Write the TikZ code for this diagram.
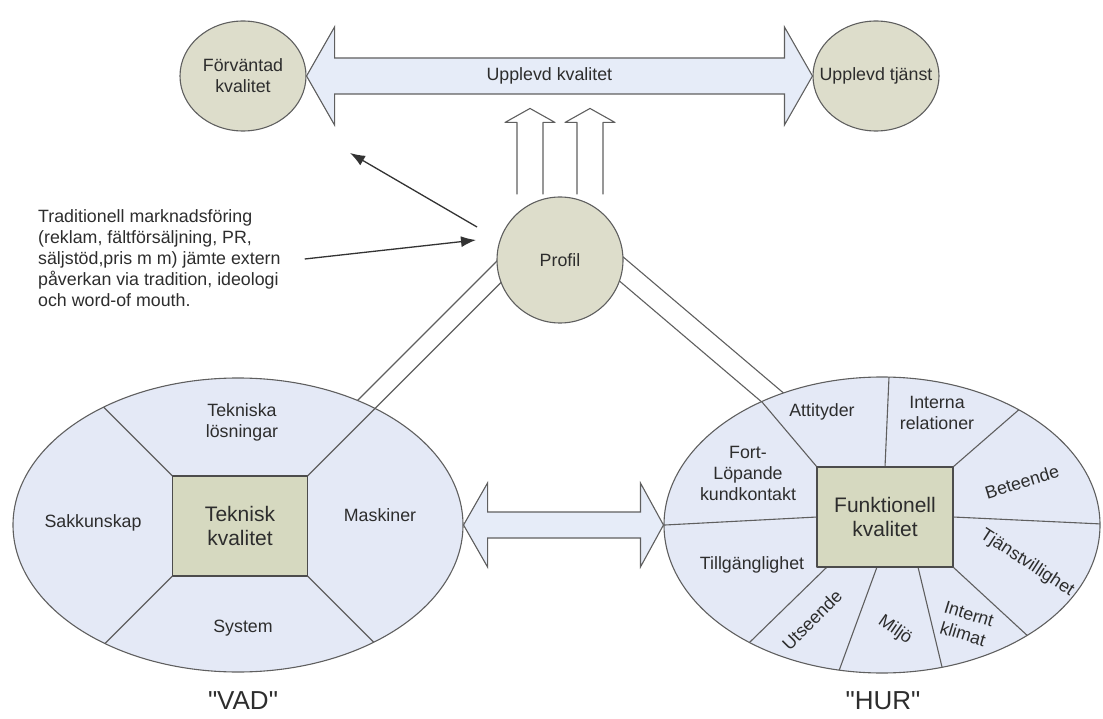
\documentclass[tikz,border=0pt]{standalone}
\usepackage{fontspec}
\setmainfont{Liberation Sans}
\usepackage{tikz}
\usetikzlibrary{arrows.meta,calc,backgrounds,shapes.geometric}
\definecolor{kvedge}{RGB}{95,95,95}
\definecolor{kvoliv}{RGB}{221,221,203}
\definecolor{kvruta}{RGB}{214,217,192}
\definecolor{kvbla}{RGB}{228,233,246}
\definecolor{kvpil}{RGB}{230,236,248}
\definecolor{kvtext}{RGB}{45,45,45}
\tikzset{
  oval/.style={
    ellipse, draw=kvedge, line width=1.1pt, fill=kvoliv,
    inner sep=0pt, align=center, text=kvtext
  },
  storoval/.style={ellipse, draw=kvedge, line width=1.1pt, fill=kvbla, inner sep=0pt},
  ruta/.style={
    draw=kvedge!80!black, line width=1.8pt, fill=kvruta, align=center,
    inner sep=0pt, font=\fontsize{21}{24.5}\selectfont, text=kvtext
  },
  skilje/.style={draw=kvedge, line width=1.1pt},
  etikett/.style={align=center, inner sep=0pt, text=kvtext},
  stor/.style={etikett, font=\fontsize{26}{30}\selectfont},
  blockpil/.style={draw=kvedge, line width=1.1pt, fill=kvpil, line join=miter},
  hulpil/.style={draw=kvedge, line width=1.1pt},
  tvilling/.style={draw=kvedge, line width=1.1pt},
  pil/.style={-{Latex[length=15pt,width=11pt]}, draw=black!80, line width=1.3pt}
}

\begin{document}
\begin{tikzpicture}[x=1pt, y=-1pt, font=\fontsize{17.8}{21}\selectfont, line join=round]
  \useasboundingbox (0,0) rectangle (1103,719);
  % top row and the profile
  \node[oval, minimum width=126pt, minimum height=110pt] (forv) at (243,76) {Förväntad\\kvalitet};
  \node[oval, minimum width=126pt, minimum height=110pt] (uppt) at (876,76) {};
  \node[etikett] (upptxt) at (uppt.center) {Upplevd tjänst};
  \node[oval, minimum width=126pt, minimum height=126pt] (profil) at (560,260) {Profil};

  % the two big ovals
  \node[storoval, minimum width=450pt, minimum height=294pt] (vad) at (238,525) {};
  \node[storoval, minimum width=436pt, minimum height=296pt] (hur) at (882,525) {};

  % "VAD": four sectors round the box
  \begin{scope}
    \clip (vad.center) ellipse [x radius=225pt, y radius=147pt];
    \path (240,526) coordinate (tekc);
    \foreach \hrn/\dx/\dy in {north west/-1/-1, north east/1/-1, south west/-1/1, south east/1/1}
      \draw[skilje] ($(tekc)+({67.5*\dx},{50*\dy})$) -- ++({150*\dx},{150*\dy});
  \end{scope}
  \node[ruta, minimum width=135pt, minimum height=100pt] (tekbox) at (tekc) {Teknisk\\kvalitet};

  % "HUR": nine sectors round the box
  \path (885,517) coordinate (funkc);
  \begin{scope}
    \clip (hur.center) ellipse [x radius=218pt, y radius=148pt];
    \path ($(funkc)+(-68,-50)$) coordinate (f1) ($(funkc)+(0,-50)$) coordinate (f2)
          ($(funkc)+(68,-50)$) coordinate (f3) ($(funkc)+(68,0)$) coordinate (f4)
          ($(funkc)+(68,50)$) coordinate (f5) ($(funkc)+(33,50)$) coordinate (f6)
          ($(funkc)+(-8,50)$) coordinate (f7) ($(funkc)+(-58,50)$) coordinate (f8)
          ($(funkc)+(-68,0)$) coordinate (f9);
    \draw[skilje] (f1) -- ($(f1)!3!(762,402)$);
    \draw[skilje] (f2) -- ($(f2)!3!(889,377)$);
    \draw[skilje] (f3) -- ($(f3)!3!(1022,407)$);
    \draw[skilje] (f4) -- ($(f4)!3!(1102,524)$);
    \draw[skilje] (f5) -- ($(f5)!3!(1030,638)$);
    \draw[skilje] (f6) -- ($(f6)!3!(942,667)$);
    \draw[skilje] (f7) -- ($(f7)!3!(840,668)$);
    \draw[skilje] (f8) -- ($(f8)!3!(752,640)$);
    \draw[skilje] (f9) -- ($(f9)!3!(665,525)$);
  \end{scope}
  \node[ruta, minimum width=136pt, minimum height=100pt] (funkbox) at (funkc) {Funktionell\\kvalitet};

  % double lines from the profile down to the ovals
  \begin{scope}[on background layer]
    \draw[tvilling] (tekbox.north east) -- ++(250,-250);
    \draw[tvilling] ($(tekbox.north east)+(-7.5,-18)$) -- ++(250,-250);
    \draw[tvilling] ($(hur.center)+(-112,-116)$) -- ($(profil.center)+(50,13)$);
    \draw[tvilling] ($(hur.center)+(-82,-118)$) -- ($(profil.center)+(52,-12.5)$);
  \end{scope}

  % block arrows
  \draw[blockpil] (forv.east) -- ++(28,-49) -- ++(0,31) -- ($(uppt.west)+(-28,-18)$)
    -- ++(0,-31) -- (uppt.west) -- ++(-28,49) -- ++(0,-31)
    -- ($(forv.east)+(28,18)$) -- ++(0,31) -- cycle;
  \node[etikett] (uk) at ($(forv.east)!0.48!(uppt.west)$) {Upplevd kvalitet};
  \draw[blockpil] (vad.east) -- ++(24,-42) -- ++(0,29) -- ($(hur.west)+(-23,-13)$)
    -- ++(0,-29) -- (hur.west) -- ++(-23,42) -- ++(0,-29)
    -- ($(vad.east)+(24,13)$) -- ++(0,29) -- cycle;
  \foreach \dx in {-30,30}
    \draw[hulpil] ($(profil.north)+(\dx-13,-2)$) -- ++(0,-72) -- ++(-12,0)
      -- ++(25,-14) -- ++(25,14) -- ++(-12,0) -- ++(0,72);

  % texts in the ovals
  \node[etikett] (teklos) at (242,422) {Tekniska\\lösningar};
  \node[etikett] (sakk) at (93,523) {Sakkunskap};
  \node[etikett] (mask) at (380,515) {Maskiner};
  \node[etikett] (syst) at (243,628) {System};
  \node[stor] (vadtxt) at (243,701) {\textquotedbl VAD\textquotedbl};
  \node[etikett] (attit) at (822,412) {Attityder};
  \node[etikett] (intrel) at (937,413) {Interna\\relationer};
  \node[etikett] (fortl) at (748,473) {Fort-\\Löpande\\kundkontakt};
  \node[etikett, rotate=17] (betee) at (1022,482) {Beteende};
  \node[etikett, rotate=-33] (tjanst) at (1027,563) {Tjänstvillighet};
  \node[etikett] (tillg) at (752,565) {Tillgänglighet};
  \node[etikett, rotate=45] (utse) at (812,620) {Utseende};
  \node[etikett, rotate=-35] (miljo) at (895,630) {Miljö};
  \node[etikett, rotate=-17] (intkl) at (966,624) {Internt\\klimat};
  \node[stor] (hurtxt) at (883,701) {\textquotedbl HUR\textquotedbl};

  % marketing note
  \node[etikett, align=left, anchor=west] (trad) at (38,258)
    {Traditionell marknadsföring\\(reklam, fältförsäljning, PR,\\säljstöd,pris m m) jämte extern\\påverkan via tradition, ideologi\\och word-of mouth.};
  \draw[pil] ($(trad.east)+(24,1)$) -- ($(profil.center)+(-84,-20)$);
  \draw[pil] ($(profil.center)+(-83,-33)$) -- ($(forv.center)+(107,77)$);
\end{tikzpicture}
\end{document}
